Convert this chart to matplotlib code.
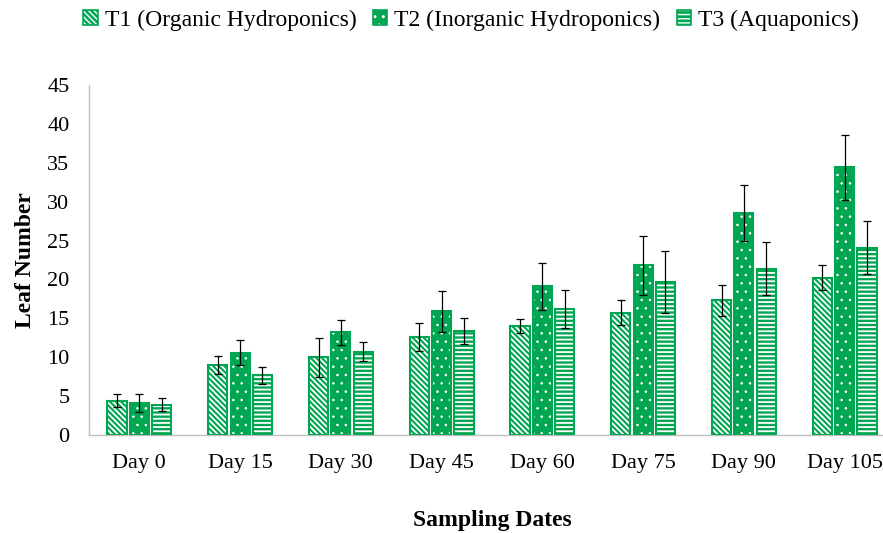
"""
    Leaf number of three growing systems over sampling dates
    grouped bar chart with error bars
"""

# %% Library
import numpy as np
import matplotlib
matplotlib.use("Agg")
import matplotlib.pyplot as plt
from matplotlib.patches import Patch
from matplotlib.legend_handler import HandlerTuple

# %% Data
days = ["Day 0", "Day 15", "Day 30", "Day 45", "Day 60", "Day 75", "Day 90", "Day 105"]
series_names = ["T1 (Organic Hydroponics)", "T2 (Inorganic Hydroponics)", "T3 (Aquaponics)"]

t1_mean = [4.4, 9.0, 10.0, 12.6, 14.0, 15.7, 17.3, 20.2]
t1_err = [0.85, 1.1, 2.5, 1.8, 0.9, 1.6, 2.0, 1.6]

t2_mean = [4.1, 10.6, 13.2, 15.9, 19.1, 21.8, 28.6, 34.4]
t2_err = [1.2, 1.6, 1.6, 2.6, 3.0, 3.8, 3.6, 4.2]

t3_mean = [3.9, 7.7, 10.7, 13.4, 16.2, 19.7, 21.4, 24.1]
t3_err = [0.8, 1.1, 1.2, 1.7, 2.4, 4.0, 3.4, 3.4]

# %% Style
green = "#00A651"
hatches = ["\\\\\\\\\\\\", "..", "----"]
hatch_lw = [1.3, 0.6, 1.3]
plt.rcParams["font.family"] = ["Liberation Serif", "DejaVu Serif"]

# %% Plot
fig = plt.figure(figsize=(8.83, 5.33), dpi=100)
ax = fig.add_axes([89 / 883, 98 / 533, 806 / 883, 350 / 533])

x = np.arange(len(days))
width = 0.19
step = 0.222
means = [t1_mean, t2_mean, t3_mean]
errs = [t1_err, t2_err, t3_err]

handles = []
for i in range(3):
    pos = x + (i - 1) * step
    with plt.rc_context({"hatch.linewidth": hatch_lw[i]}):
        # white hatch on green face
        ax.bar(pos, means[i], width, color=green, edgecolor="white", linewidth=0, hatch=hatches[i], zorder=2)
        hatch_patch = Patch(facecolor=green, edgecolor="white", linewidth=0, hatch=hatches[i])
    # green outline on top
    ax.bar(pos, means[i], width, fill=False, edgecolor=green, linewidth=1.5, zorder=3)
    ax.errorbar(pos, means[i], yerr=errs[i], fmt="none", ecolor="black",
                elinewidth=0.9, capsize=2.7, capthick=0.9, zorder=4)
    handles.append((hatch_patch, Patch(fill=False, edgecolor=green, linewidth=1.2)))

ax.set_xlim(-0.5, len(days) - 0.5)
ax.set_ylim(0, 45)
ax.set_yticks(range(0, 46, 5))
ax.set_xticks(x)
ax.set_xticklabels(days)
ax.tick_params(axis="both", length=0, labelsize=16, colors="black")
ax.tick_params(axis="y", pad=14)
ax.tick_params(axis="x", pad=14)

for side in ["top", "right"]:
    ax.spines[side].set_visible(False)
for side in ["left", "bottom"]:
    ax.spines[side].set_color("#BFBFBF")
    ax.spines[side].set_linewidth(1)

ax.set_ylabel("Leaf Number", fontsize=17, fontweight="bold", labelpad=8)
ax.set_xlabel("Sampling Dates", fontsize=17, fontweight="bold", labelpad=26)

fig.legend(handles, series_names, handler_map={tuple: HandlerTuple(ndivide=1, pad=0)},
           loc="center", bbox_to_anchor=(471 / 883, 1 - 20 / 533), ncol=3, frameon=False,
           fontsize=17, handlelength=0.6, handleheight=0.6, handletextpad=0.3,
           columnspacing=0.7, borderpad=0)

fig.savefig("out.png", dpi=100)
